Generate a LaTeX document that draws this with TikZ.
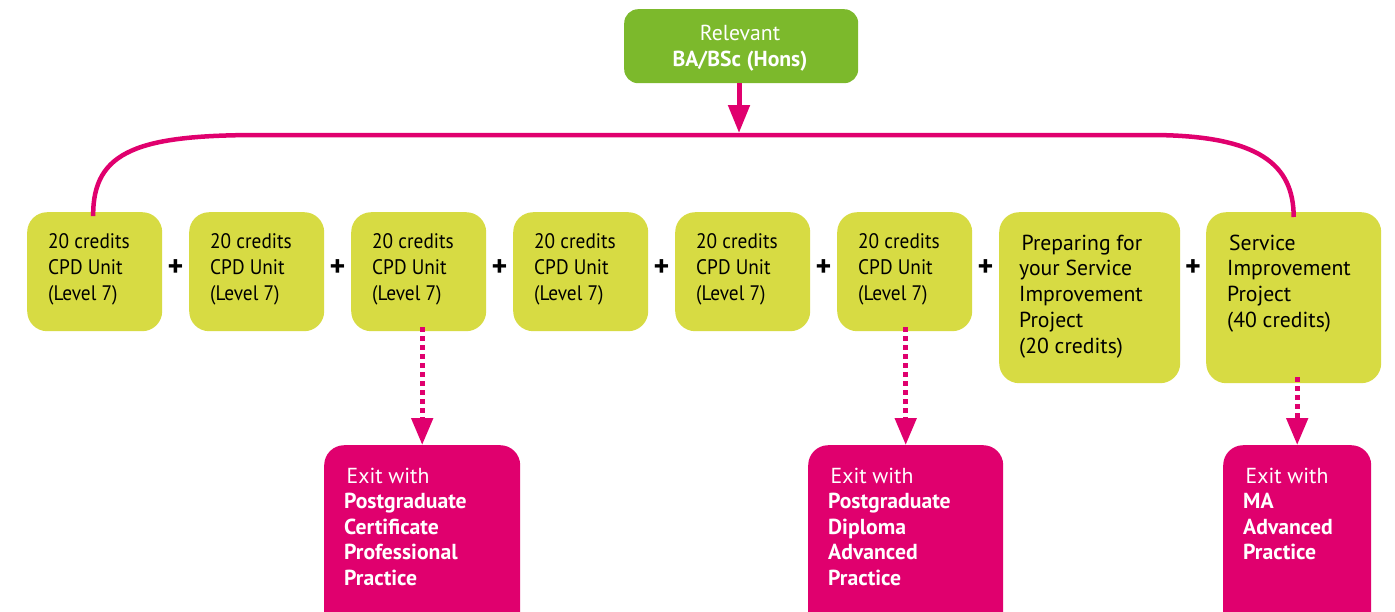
\documentclass[tikz,border=0pt]{standalone}
\usepackage{fontspec}
\setmainfont{PT Sans}
\newfontfamily\condfont[FakeStretch=0.92]{PT Sans}
\usetikzlibrary{arrows.meta}
\definecolor{topgreen}{HTML}{7CB92C}
\definecolor{unityellow}{HTML}{D7DB43}
\definecolor{exitmag}{HTML}{E0006E}
\tikzset{
  unitbox/.style={draw=none,fill=unityellow,rounded corners=20pt,anchor=north west,inner sep=0pt},
  exitbox/.style={draw=none,fill=exitmag,rounded corners=20pt,anchor=north west,inner sep=0pt,minimum height=190pt},
  unittext/.style={anchor=north west,inner sep=0pt,align=left,font=\condfont\fontsize{21}{26}\selectfont,text=black},
  projtext/.style={anchor=north west,inner sep=0pt,align=left,font=\fontsize{21.7}{25.8}\selectfont,text=black},
  exittext/.style={anchor=north west,inner sep=0pt,align=left,font=\fontsize{21.7}{25.6}\selectfont,text=white},
  plussign/.style={inner sep=0pt,font=\fontsize{30}{30}\selectfont\bfseries,text=black},
  flowline/.style={draw=exitmag,line width=4.5pt},
  exitarrow/.style={draw=exitmag,line width=5pt,dash pattern=on 5pt off 4pt,-{Triangle[width=21pt,length=27pt,fill=exitmag,sep=0pt]}},
}
\begin{document}
\begin{tikzpicture}[x=1pt,y=-1pt]
\useasboundingbox (0,0) rectangle (1395,611);
\clip (0,0) rectangle (1395,611);
% top box
\node[draw=none,fill=topgreen,rounded corners=14pt,minimum width=234pt,minimum height=74pt,inner sep=0pt,anchor=north west] (top) at (624,9) {};
\node[align=center,text=white,inner sep=0pt,font=\fontsize{21.7}{26.5}\selectfont,anchor=north] (toptext) at (740,24.5) {Relevant\\\textbf{BA/BSc (Hons)}};
% unit boxes
\node[unitbox,minimum width=135pt,minimum height=119pt] (b1) at (27,212) {};
\node[unitbox,minimum width=135pt,minimum height=119pt] (b2) at (189,212) {};
\node[unitbox,minimum width=135pt,minimum height=119pt] (b3) at (351,212) {};
\node[unitbox,minimum width=135pt,minimum height=119pt] (b4) at (513,212) {};
\node[unitbox,minimum width=135pt,minimum height=119pt] (b5) at (675,212) {};
\node[unitbox,minimum width=135pt,minimum height=119pt] (b6) at (837,212) {};
\node[unitbox,minimum width=181pt,minimum height=171pt] (b7) at (999,212) {};
\node[unitbox,minimum width=175pt,minimum height=171pt] (b8) at (1206,212) {};
\node[unittext] (t1) at (48,233) {20 credits\\CPD Unit\\(Level 7)};
\node[unittext] (t2) at (210,233) {20 credits\\CPD Unit\\(Level 7)};
\node[unittext] (t3) at (372,233) {20 credits\\CPD Unit\\(Level 7)};
\node[unittext] (t4) at (534,233) {20 credits\\CPD Unit\\(Level 7)};
\node[unittext] (t5) at (696,233) {20 credits\\CPD Unit\\(Level 7)};
\node[unittext] (t6) at (858,233) {20 credits\\CPD Unit\\(Level 7)};
\node[projtext] (t7) at (1019,234.5) {\hspace{2.5pt}Preparing for\\your Service\\Improvement\\Project\\(20 credits)};
\node[projtext] (t8) at (1227,234.5) {\hspace{2pt}Service\\Improvement\\Project\\(40 credits)};
% plus signs
\node[plussign] (p1) at (175.5,268) {+};
\node[plussign] (p2) at (337.5,268) {+};
\node[plussign] (p3) at (499.5,268) {+};
\node[plussign] (p4) at (661.5,268) {+};
\node[plussign] (p5) at (823.5,268) {+};
\node[plussign] (p6) at (985.5,268) {+};
\node[plussign] (p7) at (1193,268) {+};
% exit boxes
\node[exitbox,minimum width=196pt] (e1) at (324,445) {};
\node[exitbox,minimum width=195pt] (e2) at (808,445) {};
\node[exitbox,minimum width=148pt] (e3) at (1223,445) {};
\node[exittext] (x1) at (344,467.5) {\hspace{2.5pt}Exit with\\\textbf{Postgraduate}\\\textbf{Certificate}\\\textbf{Professional}\\\textbf{Practice}};
\node[exittext] (x2) at (828,467.5) {\hspace{2.5pt}Exit with\\\textbf{Postgraduate}\\\textbf{Diploma}\\\textbf{Advanced}\\\textbf{Practice}};
\node[exittext] (x3) at (1243,467.5) {\hspace{2.5pt}Exit with\\\textbf{MA}\\\textbf{Advanced}\\\textbf{Practice}};
% connectors
\coordinate (join) at (739,133);
\draw[draw=exitmag,line width=5pt,-{Triangle[width=21pt,length=28pt,fill=exitmag,sep=0pt]}] (top.south -| join) -- (join);
\draw[flowline] ([xshift=-1.5pt,yshift=-4pt]b1.north) .. controls (92.5,150) and (140,135) .. (260,135)
  -- (1150,135) .. controls (1260,135) and (1293.5,165) .. ([yshift=-5pt]b8.north);
\draw[exitarrow] ([yshift=4pt]b3.south -| e1.north) -- (e1.north);
\draw[exitarrow] ([yshift=4pt]b6.south -| e2.north) -- (e2.north);
\draw[exitarrow] ([yshift=6pt]b8.south -| e3.north) -- (e3.north);
\end{tikzpicture}
\end{document}
